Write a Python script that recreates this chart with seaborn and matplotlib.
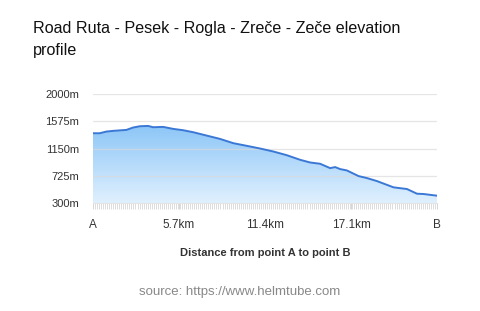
import numpy as np
import pandas as pd
import matplotlib
matplotlib.use("Agg")
import matplotlib.pyplot as plt
from matplotlib.ticker import FixedLocator
from matplotlib.colors import LinearSegmentedColormap
import seaborn as sns

# ---- data ----
title_line1 = "Road Ruta - Pesek - Rogla - Zreče - Zeče elevation"
title_line2 = "profile"
total_km = 22.8
px_pos = [280, 300, 320, 340, 380, 400, 420, 445, 460, 490, 520, 550, 580, 620, 660,
          700, 740, 780, 820, 860, 900, 930, 960, 990, 1005, 1020, 1040, 1075, 1100,
          1130, 1180, 1220, 1250, 1270, 1310]
distance_km = [round((p - 280) / 1030 * total_km, 3) for p in px_pos]
elevation_m = [1388, 1388, 1414, 1425, 1440, 1477, 1497, 1502, 1482, 1487, 1456, 1435,
               1404, 1352, 1300, 1233, 1192, 1150, 1103, 1046, 974, 932, 912, 844, 860,
               829, 808, 720, 689, 642, 544, 518, 445, 440, 414]
y_ticks = [300, 725, 1150, 1575, 2000]
y_tick_labels = ["300m", "725m", "1150m", "1575m", "2000m"]
x_ticks = [0, 5.7, 11.4, 17.1, 22.8]
x_tick_labels = ["A", "5.7km", "11.4km", "17.1km", "B"]
x_label = "Distance from point A to point B"
source = "source: https://www.helmtube.com"

df = pd.DataFrame({"km": distance_km, "elev": elevation_m})

sns.set_theme(style="white")
plt.rcParams["font.family"] = ["Liberation Sans", "DejaVu Sans"]

fig = plt.figure(figsize=(4.8, 3.11), dpi=100)
ax = fig.add_axes([93 / 480, 1 - 203 / 311, 344 / 480, 109 / 311])

ymin, ymax = 300, 2000
ax.set_xlim(0, total_km)
ax.set_ylim(ymin, ymax)

# gradient fill under the line
grad = np.linspace(1, 0, 256).reshape(-1, 1)
cmap = LinearSegmentedColormap.from_list("g", ["#e0f0fe", "#8cc6f7"])
im = ax.imshow(grad, aspect="auto", cmap=cmap, extent=[0, total_km, ymin, 1510],
               origin="upper", zorder=1)
poly = ax.fill_between(df["km"], df["elev"], ymin, color="none", lw=0)
im.set_clip_path(poly.get_paths()[0], ax.transData)
sns.lineplot(data=df, x="km", y="elev", ax=ax, color="#3b78d6", lw=1.4, zorder=3)

for yv in y_ticks[1:]:
    ax.axhline(yv, color="#dadada", lw=0.9, alpha=0.7, zorder=2)

ax.set_yticks(y_ticks)
ax.set_yticklabels(y_tick_labels)
ax.set_xticks(x_ticks)
ax.set_xticklabels(x_tick_labels)
ax.xaxis.set_minor_locator(FixedLocator(np.linspace(0, total_km, 171)))
for s in ax.spines.values():
    s.set_visible(False)
ax.spines["bottom"].set_visible(True)
ax.spines["bottom"].set_color("#e4e4e4")
ax.spines["bottom"].set_linewidth(0.8)
ax.tick_params(axis="y", length=0, labelsize=8, colors="#333333", pad=10)
ax.tick_params(axis="x", which="both", bottom=True, direction="out")
ax.tick_params(axis="x", which="major", length=4.5, width=0.7, color="#d6d6d6",
               labelsize=8.5, labelcolor="#333333", pad=7)
ax.tick_params(axis="x", which="minor", length=4.5, width=0.7, color="#dcdcdc")
ax.set_xlabel(x_label, fontsize=8, fontweight="bold", color="#333333", labelpad=12)
ax.set_ylabel("")

fig.text(33 / 480, 1 - 28 / 311, title_line1, fontsize=11.6, color="#111111",
         ha="left", va="center")
fig.text(33 / 480, 1 - 50 / 311, title_line2, fontsize=11.6, color="#111111",
         ha="left", va="center")
fig.text(240 / 480, 1 - 292 / 311, source, fontsize=9.5, color="#888888",
         ha="center", va="center")

fig.savefig("out.png", dpi=100, facecolor="white")
